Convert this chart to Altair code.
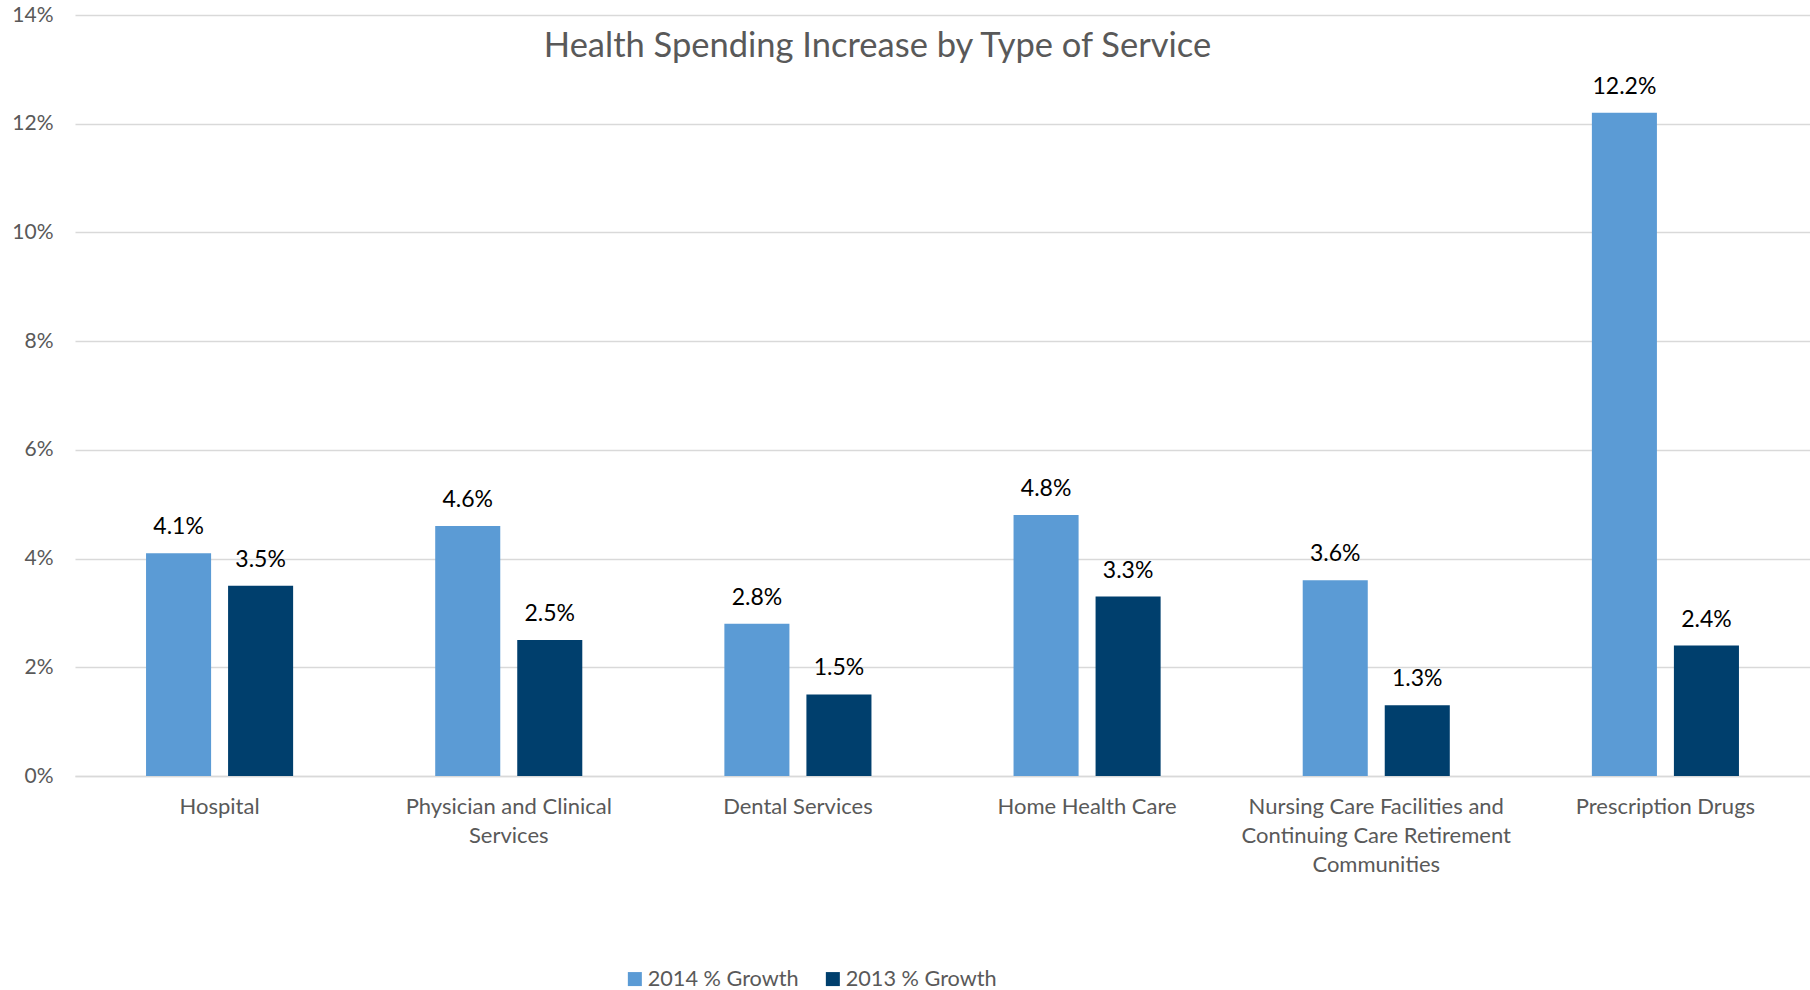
import altair as alt
import pandas as pd

categories = [
    "Hospital",
    "Physician and Clinical Services",
    "Dental Services",
    "Home Health Care",
    "Nursing Care Facilities and Continuing Care Retirement Communities",
    "Prescription Drugs",
]
wrapped = [
    ["Hospital"],
    ["Physician and Clinical", "Services"],
    ["Dental Services"],
    ["Home Health Care"],
    ["Nursing Care Facilities and", "Continuing Care Retirement", "Communities"],
    ["Prescription Drugs"],
]
series = ["2014 % Growth", "2013 % Growth"]
growth_2014 = [4.1, 4.6, 2.8, 4.8, 3.6, 12.2]
growth_2013 = [3.5, 2.5, 1.5, 3.3, 1.3, 2.4]
colors = ["#5B9BD5", "#003F6D"]
y_ticks = [0, 2, 4, 6, 8, 10, 12, 14]

rows = []
for c, a, b in zip(categories, growth_2014, growth_2013):
    rows.append({"category": c, "series": series[0], "value": a})
    rows.append({"category": c, "series": series[1], "value": b})
df = pd.DataFrame(rows)

label_expr = ""
for c, w in zip(categories, wrapped):
    arr = "[" + ",".join("'" + s + "'" for s in w) + "]"
    label_expr += f"datum.label == '{c}' ? {arr} : "
label_expr += "datum.label"

FONT = "Lato"
GRAY = "#595959"

x = alt.X(
    "category:N",
    sort=categories,
    scale=alt.Scale(paddingInner=0, paddingOuter=0),
    axis=alt.Axis(
        title=None,
        labelAngle=0,
        labelExpr=label_expr,
        labelFont=FONT,
        labelFontSize=22,
        labelColor=GRAY,
        labelPadding=20,
        labelLineHeight=29,
        labelBaseline="top",
        ticks=False,
        domain=True,
        domainColor="#D9D9D9",
        domainWidth=1.5,
        grid=False,
        labelLimit=400,
    ),
)
xoff = alt.XOffset(
    "series:N",
    sort=series,
    scale=alt.Scale(domain=series, paddingInner=0.207, paddingOuter=0.866),
)
y = alt.Y(
    "value:Q",
    scale=alt.Scale(domain=[0, 14], nice=False),
    axis=alt.Axis(
        title=None,
        values=y_ticks,
        labelExpr="datum.value + '%'",
        labelFont=FONT,
        labelFontSize=21,
        labelColor=GRAY,
        labelPadding=22,
        ticks=False,
        domain=False,
        gridColor="#D9D9D9",
        gridWidth=1.5,
    ),
)

base = alt.Chart(df).encode(x=x, xOffset=xoff, y=y)

bars = base.mark_bar().encode(
    color=alt.Color(
        "series:N",
        sort=series,
        scale=alt.Scale(domain=series, range=colors),
        legend=alt.Legend(
            title=None,
            orient="none",
            direction="horizontal",
            legendX=549,
            legendY=953,
            symbolType="square",
            symbolSize=196,
            symbolStrokeWidth=0,
            labelFont=FONT,
            labelFontSize=21.7,
            labelColor=GRAY,
            labelOffset=2,
            columnPadding=23,
            padding=0,
        ),
    )
)

labels = (
    base.transform_calculate(lbl="format(datum.value, '.1f') + '%'")
    .mark_text(font=FONT, fontSize=23, color="#000000", baseline="bottom", dy=-14)
    .encode(text="lbl:N")
)

chart = (
    alt.layer(bars, labels)
    .properties(
        width=1735,
        height=761,
        padding={"left": 75, "top": 15, "right": 0, "bottom": 214},
        autosize=alt.AutoSizeParams(type="none"),
        title=alt.TitleParams(
            "Health Spending Increase by Type of Service",
            font=FONT,
            fontSize=34.5,
            fontWeight="normal",
            color=GRAY,
            anchor="middle",
            frame="group",
            dx=-65,
            offset=-60,
        ),
    )
    .configure(background="white")
    .configure_view(strokeWidth=0, strokeOpacity=0)
)

chart.save("out.html", embed_options={"renderer": "svg", "actions": False})
